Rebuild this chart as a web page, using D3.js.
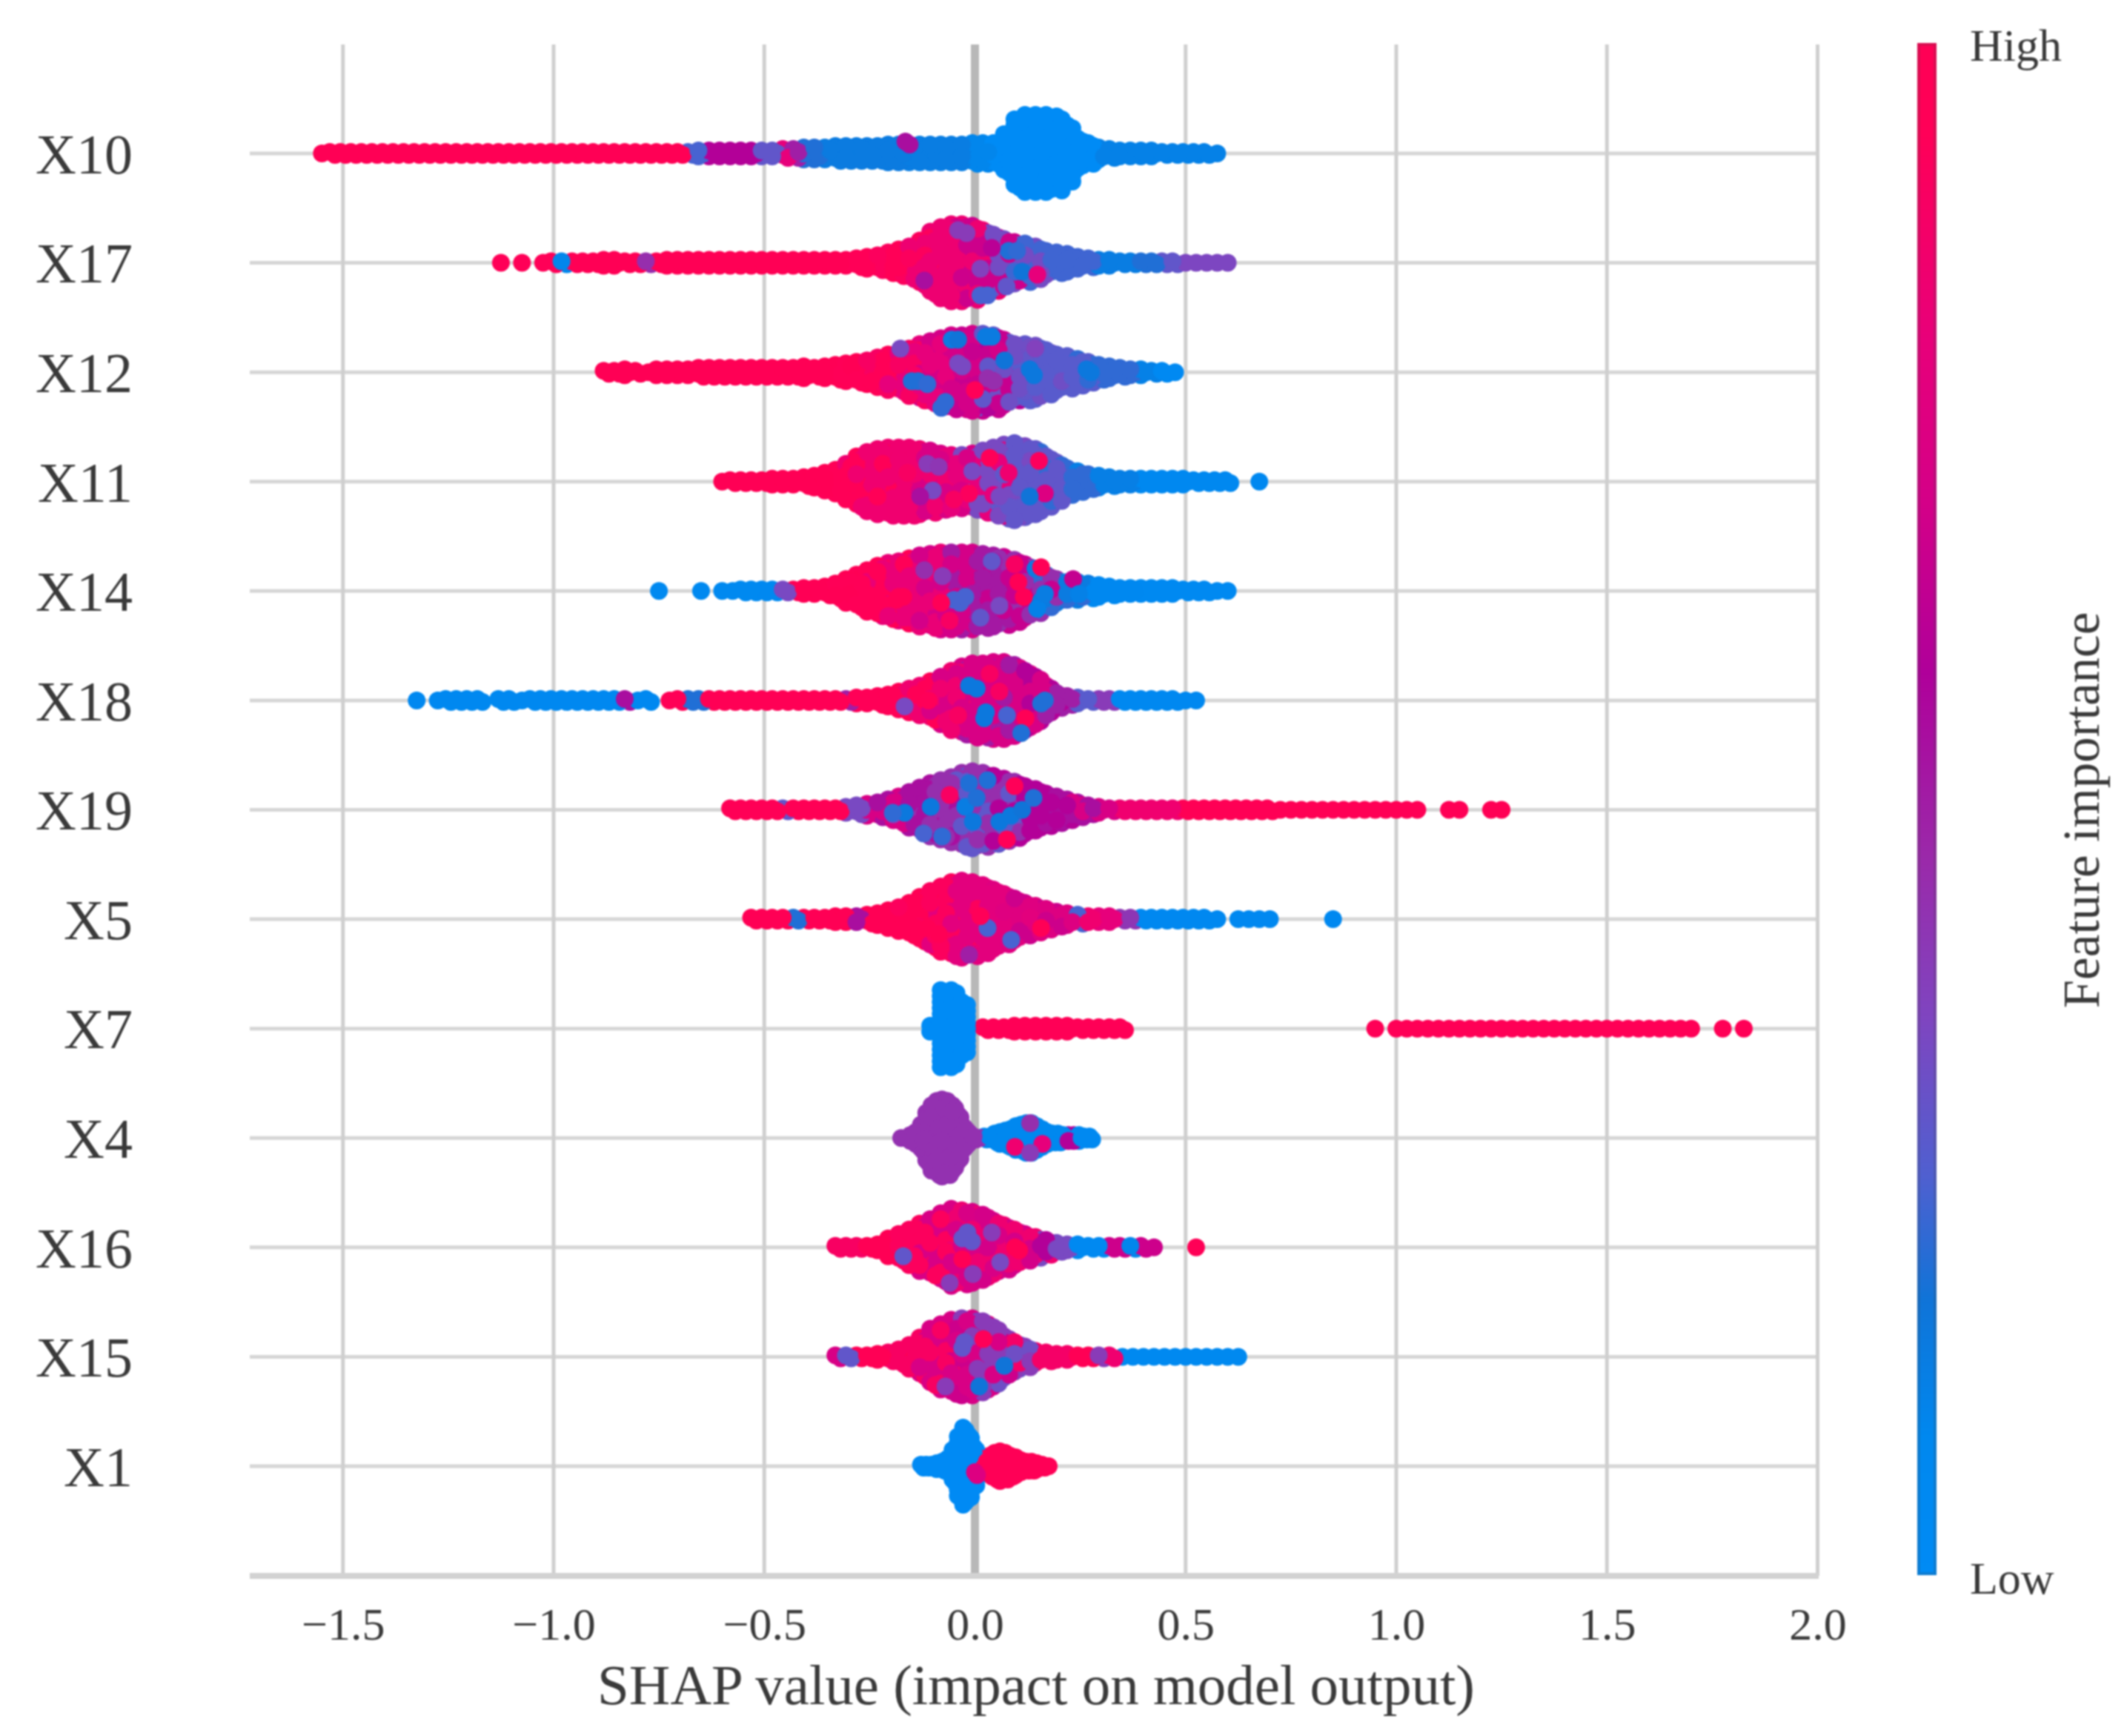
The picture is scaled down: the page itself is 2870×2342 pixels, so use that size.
<!DOCTYPE html>
<html>
<head>
<meta charset="utf-8">
<script src="https://cdn.jsdelivr.net/npm/d3@7"></script>
<style>
  html, body { margin: 0; padding: 0; background: #fff; }
  svg { display: block; filter: blur(1.2px); }
  text { font-family: "Liberation Serif", serif; fill: #3a3a3a; }
</style>
</head>
<body>
<svg id="chart" width="2870" height="2342"></svg>
<script>
// Beeswarm: each feature is a histogram of SHAP values,
// "breaks"/"feats" give the feature value from that SHAP value onwards,
// "specks" are the odd dots that stand out from their bin: [shap, rank in stack, feature value]
var features = ["X10", "X17", "X12", "X11", "X14", "X18", "X19", "X5", "X7", "X4", "X16", "X15", "X1"];
var binWidths = [0.025, 0.025, 0.025, 0.025, 0.025, 0.025, 0.025, 0.025, 0.025, 0.0125, 0.025, 0.025, 0.0125];
var colorBlend = [0, 0.6, 0.6, 0.6, 0.6, 0.6, 0.6, 0.6, 0, 0, 0.6, 0.6, 0];
var xTicks = [-1.5, -1.0, -0.5, 0.0, 0.5, 1.0, 1.5, 2.0];

var x10Start = -1.55;
var x10Counts = [1,2,2,2,2,2,2,2,2,2, 2,2,2,2,2,2,2,2,2,2, 2,2,2,2,2,2,2,2,2,2, 2,2,2,2,2,
  2,3,3,3,3,3,3,3,3,4,4, 5,5,5,6,6,6,6,6,7, 7,7,7,7,7,7,7,8,8,8,
  14,24,27,27,27,26,20,11,8,5, 4,3,3,3,3,2,2,2,2,2,1];
var x10Breaks = [-1.56,-0.69,-0.63,-0.52,-0.47,-0.44,-0.41,-0.365,-0.175,-0.155,-0.02,0.05,0.3];
var x10Feats = [1,0.25,0.6,0.3,0.8,0.5,0.2,0.15,0.6,0.14,0.1,0,0.12];
var x10Specks = [[-0.165,-4,0.55],[-0.155,-3,0.55]];

var x17Start = -1.125;
var x17Counts = [1,0,1,0,1,2,2,2,2,2, 3,3,2,2,2,2,3,3, 3,3,3,3,3,3,3,3,3,3,3,3,3,3,3,3,
  4,5,6,8,10,12,16,22,25,27,27,26,23,20,17,15,14,12,9,8,7,5,4,3,3,2,2,2,2,2,2,1,1,1,1,1];
var x17Breaks = [-1.13,-0.985,-0.965,-0.79,-0.77,-0.3,-0.2,-0.14,0,0.06,0.15,0.3,0.38,0.45,0.5];
var x17Feats = [0.97,0.1,1,0.45,1,0.97,0.92,0.84,0.68,0.34,0.24,0.14,0.2,0.3,0.36];
var x17Specks = [[0.08,-4,0.2],[0.1,-4,0.22],[0.112,3,0.18],[0.013,2,0.38],[0.013,11,0.25],[0.03,11,0.25],
  [-0.04,-11,0.4],[-0.02,-10,0.4],[0.075,8,0.3],[0.148,4,0.8],[-0.12,6,0.55],[0.04,-5,0.62]];

var x12Start = -0.875;
var x12Counts = [2,2,3,2,1,3,3,3,3,4,4,4,4,4,4,4,4,4,4,5,4,5,6,7,8,9,11,13,14,17,20,22,24,26,26,27,27,26,23,20,20,19,16,13,12,10,8,6,5,4,3,3,2,2,1];
var x12Breaks = [-0.88,-0.3,-0.22,-0.15,-0.1,0,0.05,0.06,0.1,0.15,0.3,0.4,0.44];
var x12Feats = [1,0.96,0.9,0.8,0.7,0.66,0.6,0.3,0.33,0.28,0.22,0.12,0.05];
var x12Specks = [[-0.055,-11,0.15],[-0.04,-11,0.18],[0.026,-12,0.15],[0.04,-12,0.15],[-0.04,-3,0.35],[-0.03,-2,0.35],
  [-0.15,3,0.2],[-0.135,3,0.2],[-0.113,4,0.22],[-0.08,12,0.22],[-0.07,10,0.22],[0.03,2,0.45],[0.045,3,0.45],
  [0.13,-1,0.16],[0.14,1,0.16],[0.265,-1,0.16],[0.275,0,0.16],[0.07,-4,0.18],[-0.177,-8,0.35],[0.143,-8,0.38],[-0.09,-4,0.8],[0,6,0.95]];

var x11Start = -0.6;
var x11Counts = [1,2,2,2,2,3,3,3,4,5,7,9,13,18,21,23,24,24,24,23,22,20,19,19,20,22,24,26,27,25,23,18,14,10,8,6,5,4,3,3,3,3,3,3,3,2,2,2,2,0,0,1];
var x11Breaks = [-0.61,-0.35,-0.25,-0.12,-0.05,0.02,0.1,0.2,0.3,0.38,0.395];
var x11Feats = [1,0.96,0.85,0.72,0.8,0.35,0.3,0.22,0.13,0.65,0.08];
var x11Specks = [[0.152,-7,0.92],[0.08,-3,0.85],[0.035,-8,0.95],[0.166,4,0.75],[-0.113,-6,0.4],[-0.086,-5,0.42],
  [-0.1,3,0.35],[-0.014,4,0.92],[0.058,5,0.35],[0.13,5,0.18],[-0.05,6,0.9],[-0.13,5,0.55],[-0.16,-3,0.9]];

var x14Start = -0.75;
var x14Counts = [1,0,0,0,1,0,1,1,2,2,2,2,2,2,3,3,4,6,9,12,15,18,20,21,23,25,26,27,27,27,27,26,25,24,22,19,16,12,9,7,7,6,5,4,3,3,3,3,3,3,2,2,2,1,1];
var x14Breaks = [-0.76,-0.5,-0.47,-0.43,-0.3,-0.2,-0.1,-0.02,0.05,0.12,0.18,0.22,0.27,0.4];
var x14Feats = [0.07,0.08,0.35,1,0.96,0.82,0.7,0.52,0.66,0.45,0.22,0.15,0.08,0.06];
var x14Specks = [[-0.05,3,0.25],[-0.035,4,0.25],[-0.023,2,0.25],[-0.17,2,0.98],[-0.186,3,0.98],[0.103,-3,0.98],[0.116,2,0.98],
  [0.094,-9,0.9],[0.157,-8,0.98],[0.04,-10,0.3],[0.148,6,0.12],[0.166,1,0.14],[0.233,-4,0.65],[0.247,1,0.12],
  [-0.077,-5,0.4],[0.013,9,0.3],[-0.06,10,0.9],[0.058,5,0.35],[-0.12,-7,0.45],[-0.08,4,0.97]];

var x18Start = -1.325;
var x18Counts = [1,0,1,2,2,2,2,0,2,2,1,2,2,2,2,2,2,2,2,2,2,1,2,0,1,2,2,2,2,
  2,2,2,2,2,2,2,2,2,2,2,2,2, 3,3,4,5,7,9,11,14,17,21,24,26,26,27,27,25,21,17,11,6,4,3,2,2,2,2,2,2,2,2,2,1,1];
var x18Breaks = [-1.33,-0.83,-0.805,-0.735,-0.675,-0.64,-0.31,-0.29,-0.14,-0.05,0.02,0.05,0.14,0.2,0.24,0.28,0.335];
var x18Feats = [0.08,0.55,0.08,0.98,0.2,1,0.5,0.97,0.85,0.72,0.52,0.72,0.6,0.5,0.28,0.4,0.08];
var x18Specks = [[-0.014,-5,0.16],[0.004,-4,0.16],[0.026,4,0.16],[0.022,6,0.16],[0.058,-3,0.9],[0.166,0,0.2],[0.157,1,0.2],
  [0.12,6,0.98],[-0.04,5,0.9],[0.11,11,0.2],[-0.14,-2,0.98],[-0.11,0,0.95],[-0.167,2,0.35],[0.076,5,0.25],[0.035,-9,0.9]];

var x19Start = -0.575;
var x19Counts = [2,2,2,2,2,2,2,2,2,2,2, 3,4,5,6,8,10,13,16,19,21,23,26,27,26,24,22,20,17,15,12,10,8,6,4,3,2,
  2,2,2,2,2,2,2,2,2,2,2,2,2,2,2, 1,1,1,1,1,1,1,1,1,1,1,1,1,1, 0,0,1,1,0,0,1,1];
var x19Breaks = [-0.58,-0.455,-0.44,-0.31,-0.25,-0.18,-0.1,0,0.05,0.1,0.2,0.28,0.35,0.5];
var x19Feats = [0.99,0.3,1,0.35,0.72,0.55,0.45,0.3,0.45,0.6,0.55,0.72,0.85,1];
var x19Specks = [[-0.167,1,0.16],[-0.195,1,0.22],[-0.105,-1,0.16],[-0.023,-1,0.14],[0.004,-4,0.2],[0.03,-10,0.2],[-0.014,-9,0.2],
  [-0.005,4,0.16],[0.058,4,0.16],[0.085,2,0.16],[0.112,0,0.18],[0.139,-4,0.2],[0.094,-8,0.95],[-0.078,9,0.22],[-0.122,8,0.25],
  [0.076,10,0.95],[-0.06,-5,0.9]];

var x5Start = -0.525;
var x5Counts = [2,2,2,2,2,2,2,2,3,3,3,4,5,7,9,12,16,20,23,26,27,26,24,21,18,15,12,10,8,6,5,4,3,3,3,2,2,2,2,2,2,2,2,2,1,0,1,1,1,1,0,0,0,0,0,1];
var x5Breaks = [-0.53,-0.435,-0.4,-0.29,-0.265,-0.12,-0.05,0.1,0.15,0.2,0.23,0.26,0.3,0.34,0.385];
var x5Feats = [1,0.2,1,0.55,1,0.92,0.78,0.76,0.68,0.75,0.25,0.85,0.8,0.42,0.08];
var x5Specks = [[0.03,3,0.25],[0.086,7,0.25],[-0.014,12,0.5],[-0.113,3,1],[-0.14,3,1],[-0.086,5,1],[0.157,3,0.98],[0.013,-1,0.95]];

var x7Start = -0.1;
var x7Counts = [3,27,27,19,0, 2,2,2,3,3,3,3,3,3,2,2,2,2,2,
  0,0,0,0,0,0,0,0,0,0,0,0,0,0,0,0,0,0,0,0,0,0,0, 1,0,
  1,1,1,1,1,1,1,1,1,1,1,1,1,1,1,1,1,1,1,1,1,1,1,1,1,1,1,1,1, 0,0,1,0,1];
var x7Breaks = [-0.11,0.01];
var x7Feats = [0,0.98];
var x7Specks = [];

var x4Start = -0.175;
var x4Counts = [1,1,3,5,10,18,23,26,27,26,23,17,9,5,2,1, 2,2,4,5,6,7,9,10,11,11,9,7,5,4,4,3,3,3,3,2,2];
var x4Breaks = [-0.18,0.018,0.225,0.25];
var x4Feats = [0.44,0.09,0.6,0.06];
var x4Specks = [[0.095,3,0.85],[0.16,2,0.8],[0.131,-5,0.45],[0.131,5,0.4]];

var x16Start = -0.325;
var x16Counts = [2,2,2,2,3,7,10,13,17,20,24,27,26,25,23,19,16,13,10,8,6,4,3,3,2,2,2,2,2,2,1,0,0,0,1];
var x16Breaks = [-0.33,-0.27,-0.22,-0.1,0,0.05,0.12,0.16,0.2,0.24,0.25,0.325,0.36,0.4,0.5];
var x16Feats = [0.9,1,0.92,0.72,0.84,0.7,0.85,0.6,0.35,0.6,0.06,0.68,0.1,0.68,0.98];
var x16Specks = [[-0.03,-3,0.3],[-0.007,-2,0.3],[-0.018,-5,0.3],[0.04,-5,0.4],[-0.17,3,0.3],[0.06,5,0.35],[-0.06,12,0.4],[0.095,0,1],[0.105,1,1],[-0.005,9,0.4],[-0.03,4,1]];

var x15Start = -0.325;
var x15Counts = [2,2,2,2,3,4,6,9,14,20,23,26,27,27,25,21,15,11,8,5,4,3,3,2,2,2,2,1,1,1,1,1,1,1,1,1,1,1,1];
var x15Breaks = [-0.34,-0.31,-0.295,-0.2,-0.1,0,0.02,0.1,0.13,0.24,0.29,0.305,0.345];
var x15Feats = [0.72,0.3,1,0.9,0.72,0.68,0.4,0.33,0.88,1,0.4,0.85,0.07];
var x15Specks = [[-0.03,-3,0.3],[0.02,-6,0.95],[0.07,3,0.18],[-0.025,-5,0.3],[0.01,10,0.18],[-0.07,10,0.4]];

var x1Start = -0.125;
var x1Counts = [2,2,2,3,4,6,12,21,27,22,14, 5,6,8,10,11,10,8,7,5,4,4,3,2,1];
var x1Breaks = [-0.13,0.008];
var x1Feats = [0.02,0.98];
var x1Specks = [[0,2,0.75],[0.005,3,0.75]];

// Colour bar stops
var colorStops = [0, 0.09, 0.18, 0.26, 0.364, 0.466, 0.59, 0.7, 0.806, 0.94, 1];
var colorValues = ["#008bf5", "#0088ef", "#1074d8", "#4f60d0", "#7f45c0", "#9a2aaa", "#b0009a", "#d40088", "#e8007a", "#ff0058", "#ff0055"];

// In the wide part of a mixed swarm the colours do not change at a clean edge,
// so each dot reads its feature value a little to one side of its bin
var colorReach = [0, 0.05, -0.04, 0.09, -0.07, 0.02, -0.1, 0.06, -0.02, 0.12, -0.05];

var rows = [
  {start: x10Start, counts: x10Counts, breaks: x10Breaks, feats: x10Feats, specks: x10Specks},
  {start: x17Start, counts: x17Counts, breaks: x17Breaks, feats: x17Feats, specks: x17Specks},
  {start: x12Start, counts: x12Counts, breaks: x12Breaks, feats: x12Feats, specks: x12Specks},
  {start: x11Start, counts: x11Counts, breaks: x11Breaks, feats: x11Feats, specks: x11Specks},
  {start: x14Start, counts: x14Counts, breaks: x14Breaks, feats: x14Feats, specks: x14Specks},
  {start: x18Start, counts: x18Counts, breaks: x18Breaks, feats: x18Feats, specks: x18Specks},
  {start: x19Start, counts: x19Counts, breaks: x19Breaks, feats: x19Feats, specks: x19Specks},
  {start: x5Start, counts: x5Counts, breaks: x5Breaks, feats: x5Feats, specks: x5Specks},
  {start: x7Start, counts: x7Counts, breaks: x7Breaks, feats: x7Feats, specks: x7Specks},
  {start: x4Start, counts: x4Counts, breaks: x4Breaks, feats: x4Feats, specks: x4Specks},
  {start: x16Start, counts: x16Counts, breaks: x16Breaks, feats: x16Feats, specks: x16Specks},
  {start: x15Start, counts: x15Counts, breaks: x15Breaks, feats: x15Feats, specks: x15Specks},
  {start: x1Start, counts: x1Counts, breaks: x1Breaks, feats: x1Feats, specks: x1Specks}
];

var svg = d3.select("#chart");

// Scales
var plotLeft = 337, plotRight = 2454, plotTop = 60, plotBottom = 2126;
var x = d3.scaleLinear().domain([0, 2]).range([1315.5, 2452.5]);
var y = d3.scalePoint().domain(features).range([207, 1978]);
var color = d3.scaleLinear().domain(colorStops).range(colorValues);
var dotRadius = 12, stackStep = 4;

// Grid lines
svg.append("g").selectAll("line").data(features).join("line")
  .attr("x1", plotLeft).attr("x2", plotRight)
  .attr("y1", d => y(d)).attr("y2", d => y(d))
  .attr("stroke", "#d6d6d6").attr("stroke-width", 5);

svg.append("g").selectAll("line").data(xTicks).join("line")
  .attr("x1", d => x(d)).attr("x2", d => x(d))
  .attr("y1", plotTop).attr("y2", plotBottom)
  .attr("stroke", d => d === 0 ? "#b8b8b8" : "#cfcfcf")
  .attr("stroke-width", d => d === 0 ? 11 : 5);

// Axes
var xAxis = d3.axisBottom(x).tickValues(xTicks).tickFormat(d3.format(".1f")).tickSize(0).tickPadding(42);
var xAxisG = svg.append("g").attr("transform", `translate(0,${plotBottom})`).call(xAxis);
xAxisG.select(".domain").remove();
xAxisG.selectAll("text").style("font-size", "62px").style("font-family", "Liberation Serif");
svg.append("line")
  .attr("x1", plotLeft).attr("x2", plotRight)
  .attr("y1", plotBottom).attr("y2", plotBottom)
  .attr("stroke", "#d2d2d2").attr("stroke-width", 8);

var yAxis = d3.axisLeft(y).tickSize(0).tickPadding(0);
var yAxisG = svg.append("g").attr("transform", "translate(179,2)").call(yAxis);
yAxisG.select(".domain").remove();
yAxisG.selectAll("text").style("font-size", "76px").style("font-family", "Liberation Serif");

svg.append("text")
  .attr("x", 1398).attr("y", 2299)
  .attr("text-anchor", "middle")
  .style("font-size", "77px")
  .text("SHAP value (impact on model output)");

// Dots: every bin is stacked symmetrically around the row's line,
// every second dot sits half a bin along so the edge of the swarm stays smooth
var dots = [];
rows.forEach((row, r) => {
  var binWidth = binWidths[r];
  row.counts.forEach((n, i) => {
    var shap = row.start + i * binWidth;
    for (var k = 0; k < n; k++) {
      var reach = n >= 6 ? colorBlend[r] * colorReach[(k + i * 3) % colorReach.length] : 0;
      var feat = row.feats[Math.max(d3.bisectRight(row.breaks, shap + reach) - 1, 0)];
      var along = n > 1 ? (k % 2 ? binWidth / 4 : -binWidth / 4) : 0;
      dots.push({shap: shap + along, rank: k - (n - 1) / 2, feat: feat, name: features[r], layer: (i * 7 + k * 3) % 11});
    }
  });
  row.specks.forEach(s => {
    dots.push({shap: s[0], rank: s[1], feat: s[2], name: features[r], layer: 11});
  });
});

// layers mix the bins of a swarm; the specks go last so nothing covers them
dots.sort((a, b) => d3.ascending(a.layer, b.layer));

svg.append("g").selectAll("circle").data(dots).join("circle")
  .attr("cx", d => x(d.shap))
  .attr("cy", d => y(d.name) + d.rank * stackStep)
  .attr("r", dotRadius)
  .attr("fill", d => color(d.feat));

// Colour bar
var gradient = svg.append("defs").append("linearGradient")
  .attr("id", "featureGradient")
  .attr("x1", 0).attr("x2", 0).attr("y1", 1).attr("y2", 0);
gradient.selectAll("stop").data(colorStops).join("stop")
  .attr("offset", d => d)
  .attr("stop-color", d => color(d));

svg.append("rect")
  .attr("x", 2587).attr("y", 58).attr("width", 26).attr("height", 2067)
  .attr("fill", "url(#featureGradient)");
svg.append("rect")
  .attr("x", 2589).attr("y", 60).attr("width", 22).attr("height", 2063)
  .attr("fill", "none").attr("stroke", "#444").attr("stroke-opacity", 0.2).attr("stroke-width", 4);

svg.append("text").attr("x", 2658).attr("y", 82).style("font-size", "62px").text("High");
svg.append("text").attr("x", 2658).attr("y", 2150).style("font-size", "62px").text("Low");
svg.append("text")
  .attr("transform", "translate(2832,1093) rotate(-90)")
  .attr("text-anchor", "middle")
  .style("font-size", "69px")
  .text("Feature importance");
</script>
</body>
</html>
